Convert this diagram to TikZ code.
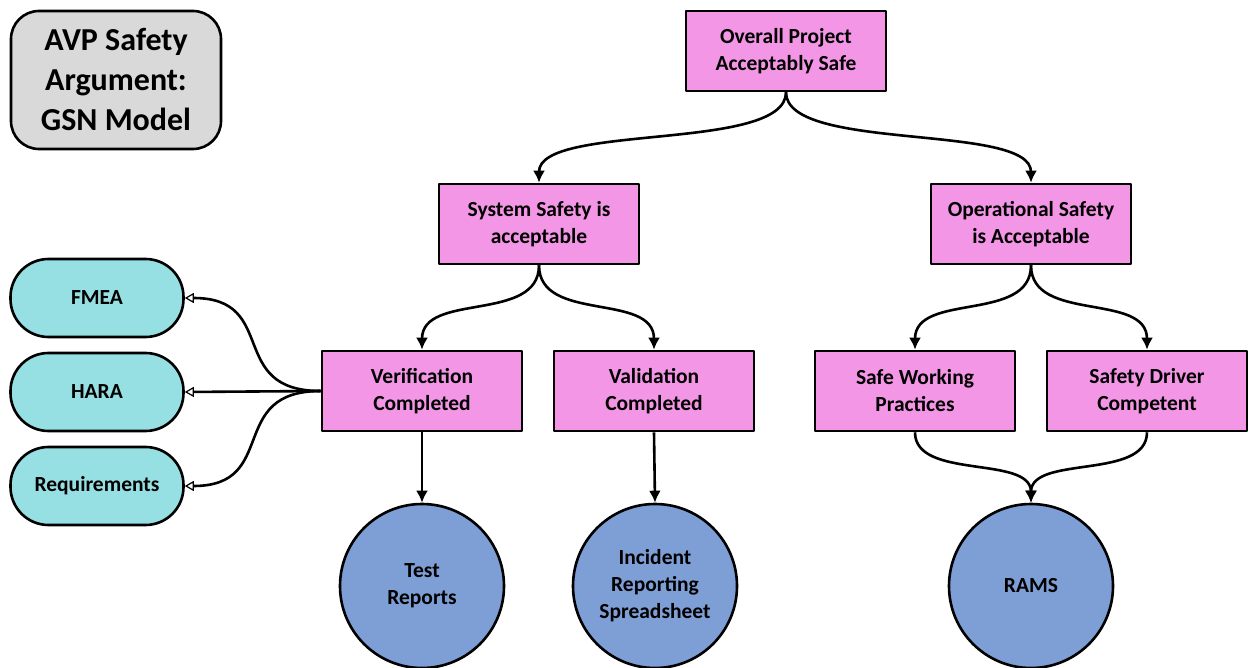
\documentclass[tikz,border=0pt]{standalone}
\usepackage{fontspec}
\setmainfont{Carlito}
\usetikzlibrary{arrows.meta}
\definecolor{goalpink}{RGB}{244,150,230}
\definecolor{solcyan}{RGB}{150,224,227}
\definecolor{evblue}{RGB}{126,159,214}
\definecolor{titlegray}{RGB}{217,217,217}
\begin{document}
\begin{tikzpicture}[x=1pt,y=-1pt,line width=2.6pt,line join=round,
    font=\bfseries\fontsize{21.5}{27}\selectfont,
    goal/.style={draw,fill=goalpink,minimum width=200pt,minimum height=80pt,align=center,inner sep=0pt},
    context/.style={draw,fill=solcyan,rounded corners=38pt,minimum width=173pt,minimum height=78pt,align=center,inner sep=0pt},
    evidence/.style={draw,fill=evblue,circle,minimum size=164pt,align=center,inner sep=0pt},
    titlebox/.style={draw,fill=titlegray,rounded corners=28pt,minimum width=210pt,minimum height=138pt,align=center,
      font=\bfseries\fontsize{32}{40}\selectfont},
    solid arrow/.style={-{Latex[length=12pt,width=12pt]}},
    open arrow/.style={-{Triangle[open,length=9pt,width=10pt,line width=1.2pt]}}]
    \useasboundingbox (0,0) rectangle (1248,668);

    % title
    \node[titlebox] (title) at (116,80) {AVP Safety\\Argument:\\GSN Model};

    % goals
    \node[goal] (overall) at (786,51) {Overall Project\\Acceptably Safe};
    \node[goal] (system) at (539,224) {System Safety is\\acceptable};
    \node[goal] (oper) at (1031,224) {Operational Safety\\is Acceptable};
    \node[goal] (verif) at (422,391) {Verification\\Completed};
    \node[goal] (valid) at (654,391) {Validation\\Completed};
    \node[goal] (working) at (915,391) {Safe Working\\Practices};
    \node[goal] (driver) at (1147,391) {Safety Driver\\Competent};

    % context
    \node[context] (fmea) at (97,298) {FMEA};
    \node[context] (hara) at (97,392) {HARA};
    \node[context] (req) at (97,486) {Requirements};

    % evidence
    \node[evidence] (test) at (422,586) {Test\\Reports};
    \node[evidence] (incident) at (655,586) {Incident\\Reporting\\Spreadsheet};
    \node[evidence] (rams) at (1031,586) {RAMS};

    % goal tree
    \draw[solid arrow] (overall.south) .. controls +(0,60) and +(0,-60) .. (system.north);
    \draw[solid arrow] (overall.south) .. controls +(0,60) and +(0,-60) .. (oper.north);
    \draw[solid arrow] (system.south) .. controls +(0,58) and +(0,-58) .. (verif.north);
    \draw[solid arrow] (system.south) .. controls +(0,58) and +(0,-58) .. (valid.north);
    \draw[solid arrow] (oper.south) .. controls +(0,58) and +(0,-58) .. (working.north);
    \draw[solid arrow] (oper.south) .. controls +(0,58) and +(0,-58) .. (driver.north);

    % context links
    \draw[open arrow] (verif.west) .. controls +(-95,0) and +(95,0) .. (fmea.east);
    \draw[open arrow] (verif.west) -- (hara.east);
    \draw[open arrow] (verif.west) .. controls +(-95,0) and +(95,0) .. (req.east);

    % evidence links
    \draw[solid arrow] (verif.south) -- (test.north);
    \draw[solid arrow] (valid.south) -- (incident.north);
    \draw[solid arrow] (working.south) .. controls +(0,48) and +(0,-48) .. (rams.north);
    \draw[solid arrow] (driver.south) .. controls +(0,48) and +(0,-48) .. (rams.north);
\end{tikzpicture}
\end{document}
